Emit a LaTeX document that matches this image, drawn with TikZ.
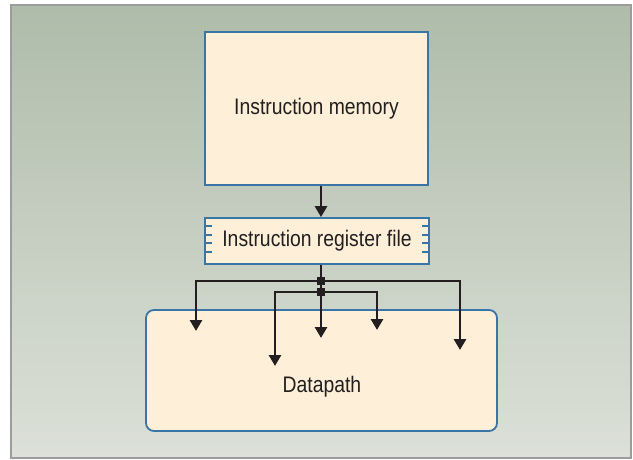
\documentclass[tikz,border=0pt]{standalone}
\usepackage{fontspec}
\setmainfont{Liberation Sans}[FakeStretch=0.86]
\usetikzlibrary{arrows.meta,calc}
\definecolor{panelTop}{HTML}{AFBCAA}
\definecolor{panelBot}{HTML}{DCE0D8}
\definecolor{boxFill}{HTML}{FEF0D8}
\definecolor{boxLine}{HTML}{3A75A8}
\definecolor{ink}{HTML}{231F20}
\definecolor{frame}{HTML}{9C9C9C}
\tikzset{
  blockbox/.style={draw=boxLine, fill=boxFill, line width=1.8pt, inner sep=0pt},
  lbl/.style={text=ink, font=\fontsize{22.5}{26}\selectfont, inner sep=0pt},
  wire/.style={draw=ink, line width=2.8pt},
  arr/.style={wire, -{Triangle[width=12pt,length=11pt]}},
  junct/.style={fill=ink, minimum size=8.5pt, inner sep=0pt},
  tick/.style={draw=boxLine, line width=1.3pt}
}
\begin{document}
\begin{tikzpicture}[x=1pt,y=-1pt]
\useasboundingbox (0,0) rectangle (633,459);
% background panel
\shade[top color=panelTop, bottom color=panelBot] (11,5) rectangle (631,458);
\draw[frame, line width=1.5pt] (11,5) rectangle (631,458);

% blocks
\node[blockbox, minimum width=223pt, minimum height=153pt] (mem) at (316.5,108.5) {};
\node[lbl] (memtext) at (316.5,109) {Instruction memory};

\node[blockbox, minimum width=224pt, minimum height=46pt] (reg) at (317,241) {};
\node[lbl] (regtext) at (317,241) {Instruction register file};
\foreach \dy in {9,18,26,35}{
  \draw[tick] ($(reg.north west)+(0,\dy)$) -- ++(7.5,0);
  \draw[tick] ($(reg.north east)+(0,\dy)$) -- ++(-7.5,0);
}

\node[blockbox, rounded corners=8pt, minimum width=351pt, minimum height=121pt] (dp) at (321.5,370.5) {};
\node[lbl] (dptext) at (322,387) {Datapath};

% connectors
\draw[arr] (mem.south -| 321,0) -- (reg.north -| 321,0);

\node[junct] (j1) at (321,281) {};
\node[junct] (j2) at (321,292) {};
\coordinate (t1) at (196,331);
\coordinate (t2) at (275,366);
\coordinate (t3) at (321,338);
\coordinate (t4) at (377,330);
\coordinate (t5) at (460,350);

\draw[wire] (reg.south -| j1) -- (j1.center);
\draw[wire] (j1.center) -- (j2.center);
\draw[arr] (j1.center) -| (t1);
\draw[arr] (j1.center) -| (t5);
\draw[arr] (j2.center) -| (t2);
\draw[arr] (j2.center) -| (t4);
\draw[arr] (j2.center) -- (t3);
\node[junct] at (j1) {};
\node[junct] at (j2) {};
\end{tikzpicture}
\end{document}
